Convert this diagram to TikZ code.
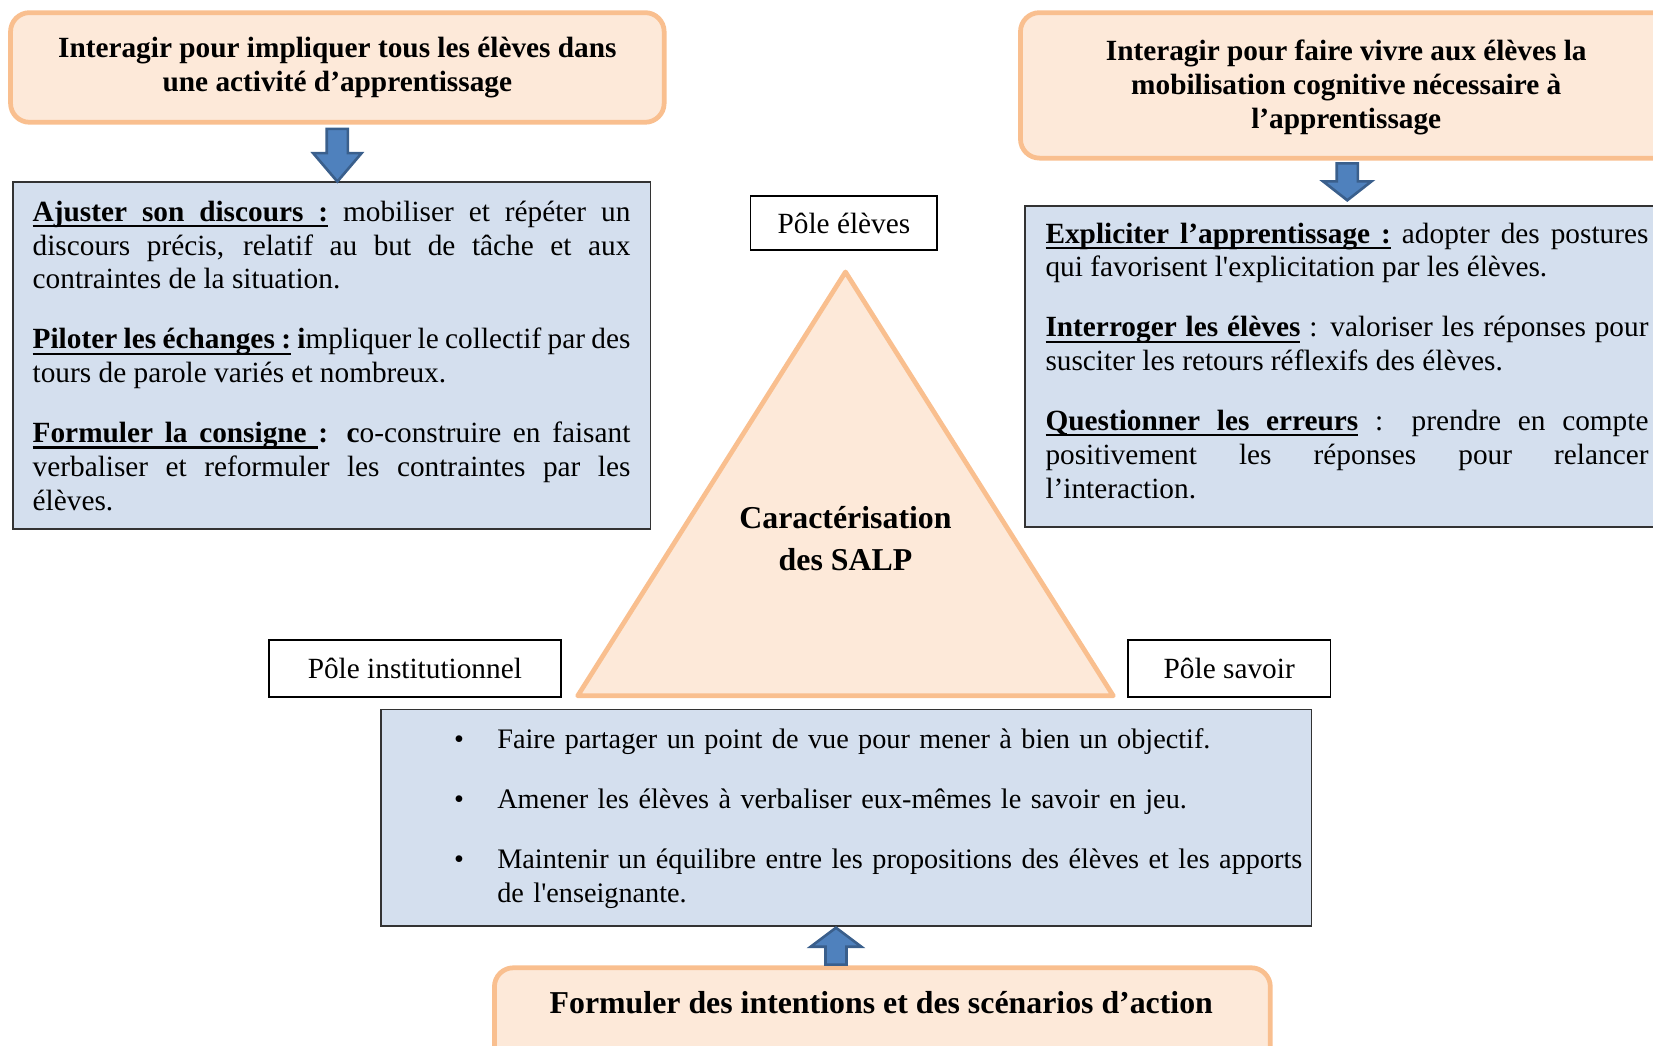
\documentclass[tikz,border=0pt]{standalone}
\usepackage{fontspec}
\setmainfont{Liberation Serif}

\definecolor{peachfill}{HTML}{FDE9D9}
\definecolor{peachline}{HTML}{F9BF8F}
\definecolor{bluefill}{HTML}{D4DFEE}
\definecolor{arrowfill}{HTML}{4F81BD}
\definecolor{arrowline}{HTML}{3A5F8C}

\newcommand{\gap}{\par\vspace{25pt}}
% underlined word and underlined (stretchable) space
\newcommand{\ulw}[1]{\setbox0\hbox{#1}\rlap{\rule[-5.5pt]{\wd0}{2pt}}\box0}
\newcommand{\ulsp}{\leaders\hrule height -3.5pt depth 5.5pt\hskip\fontdimen2\font plus\fontdimen3\font minus\fontdimen4\font\relax}

\tikzset{every picture/.style={line width=1.5pt},
  peachbox/.style={draw=peachline, fill=peachfill, line width=4.5pt, rounded corners=18pt},
  bluebox/.style={draw=black!80, fill=bluefill, line width=1.8pt},
  polebox/.style={draw=black, fill=white, line width=1.5pt, inner sep=0pt, font=\fontsize{27.8}{32}\selectfont},
  blockarrow/.style={draw=arrowline, fill=arrowfill, line width=2.5pt, line join=miter},
  bodytext/.style={font=\fontsize{27.8}{32}\selectfont, align=justify, inner sep=0pt},
  headtext/.style={font=\fontsize{27.8}{32}\selectfont\bfseries, align=center},
  titletext/.style={font=\fontsize{30.2}{40}\selectfont\bfseries, align=center}
}

\begin{document}
\begin{tikzpicture}[x=1pt,y=1pt,yscale=-1]
	\useasboundingbox (0,0) rectangle (1568,992.2);
	\clip (0,0) rectangle (1568,992.2);

	%Shape: Triangle
	\draw [peachbox, rounded corners=0pt, line join=round] (802,258) -- (1056,660) -- (548,660) -- cycle ;
	% Text Node
	\node [titletext] (salp) at (802,511) {Caractérisation\\des SALP};

	%Shape: Rounded Rect (top left)
	\node [peachbox, headtext, minimum width=620, minimum height=104] (inter1) at (320,64) {Interagir pour impliquer tous les élèves dans\\une activité d’apprentissage};
	%Shape: Rectangle (left)
	\node [bluebox, bodytext, text width=567, inner xsep=19pt, minimum height=329] (ajust) at (314.5,337.5) {%
		\textbf{\ulw{Ajuster}\ulsp\ulw{son}\ulsp\ulw{discours}\ulsp\ulw{:}} mobiliser et répéter un\linebreak discours précis, relatif au but de tâche et aux\linebreak contraintes de la situation.\gap
		\textbf{\ulw{Piloter}\ulsp\ulw{les}\ulsp\ulw{échanges}\ulsp\ulw{:}} \textbf{i}mpliquer le collectif par des\linebreak tours de parole variés et nombreux.\gap
		\textbf{\ulw{Formuler}\ulsp\ulw{la}\ulsp\ulw{consigne}\ulsp: c}o-construire en faisant\linebreak verbaliser et reformuler les contraintes par les\linebreak élèves.};
	%Block Arrow
	\draw [blockarrow] (inter1.south) ++(-10,4) -- ++(20,0) -- ++(0,23) -- ++(13,0) -- ++(-23,27) -- ++(-23,-27) -- ++(13,0) -- cycle ;

	%Shape: Rounded Rect (top right)
	\draw [peachbox] (968,12) rectangle (1720,150) ;
	\coordinate (inter2b) at (1278,150);
	% Text Node
	\node [headtext] (inter2) at (1277,83) {Interagir pour faire vivre aux élèves la\\mobilisation cognitive nécessaire à\\l’apprentissage};
	%Shape: Rectangle (right)
	\draw [bluebox] (972,195) rectangle (1720,500) ;
	% Text Node
	\node [bodytext, text width=572, anchor=north west] (explic) at (991,210.5) {%
		\textbf{\ulw{Expliciter}\ulsp\ulw{l’apprentissage}\ulsp\ulw{:}} adopter des postures\linebreak qui favorisent l\textquotesingle explicitation par les élèves.\gap
		\textbf{\ulw{Interroger}\ulsp\ulw{les}\ulsp\ulw{élèves}\ulsp}: valoriser les réponses pour\linebreak susciter les retours réflexifs des élèves.\gap
		\textbf{\ulw{Questionner}\ulsp\ulw{les}\ulsp\ulw{erreurs}\ulsp}: prendre en compte\linebreak positivement les réponses pour relancer\linebreak l’interaction.};
	%Block Arrow
	\draw [blockarrow] (inter2b) ++(-10,5) -- ++(20,0) -- ++(0,17) -- ++(13,0) -- ++(-23,18) -- ++(-23,-18) -- ++(13,0) -- cycle ;

	% Pole Nodes
	\node [polebox, minimum width=177, minimum height=51] (eleves) at (800.5,211.5) {Pôle élèves};
	\node [polebox, minimum width=277, minimum height=54] (instit) at (393.5,634) {Pôle institutionnel};
	\node [polebox, minimum width=192, minimum height=54] (savoir) at (1166,634) {Pôle savoir};

	%Shape: Rectangle (bottom)
	\draw [bluebox] (361,673) rectangle (1244,878) ;
	% Text Node
	\node [bodytext, font=\fontsize{26.8}{32}\selectfont, align=left, text width=814, anchor=north west] (strat) at (430,690.5) {%
		\makebox[41pt][l]{\textbullet}Faire partager un point de vue pour mener à bien un objectif.\gap
		\makebox[41pt][l]{\textbullet}Amener les élèves à verbaliser eux-mêmes le savoir en jeu.\gap
		\makebox[41pt][l]{\textbullet}Maintenir un équilibre entre les propositions des élèves et les apports\\\hspace*{41pt}de l\textquotesingle enseignante.};

	%Shape: Rounded Rect (bottom)
	\draw [peachbox] (469,918) rectangle (1205,1100) ;
	\coordinate (formtop) at (793,918);
	% Text Node
	\node [titletext] (form) at (836,951) {Formuler des intentions et des scénarios d’action};
	%Block Arrow
	\draw [blockarrow] (formtop) ++(-10,-3) -- ++(20,0) -- ++(0,-17) -- ++(14,0) -- ++(-24,-18) -- ++(-24,18) -- ++(14,0) -- cycle ;

\end{tikzpicture}
\end{document}
